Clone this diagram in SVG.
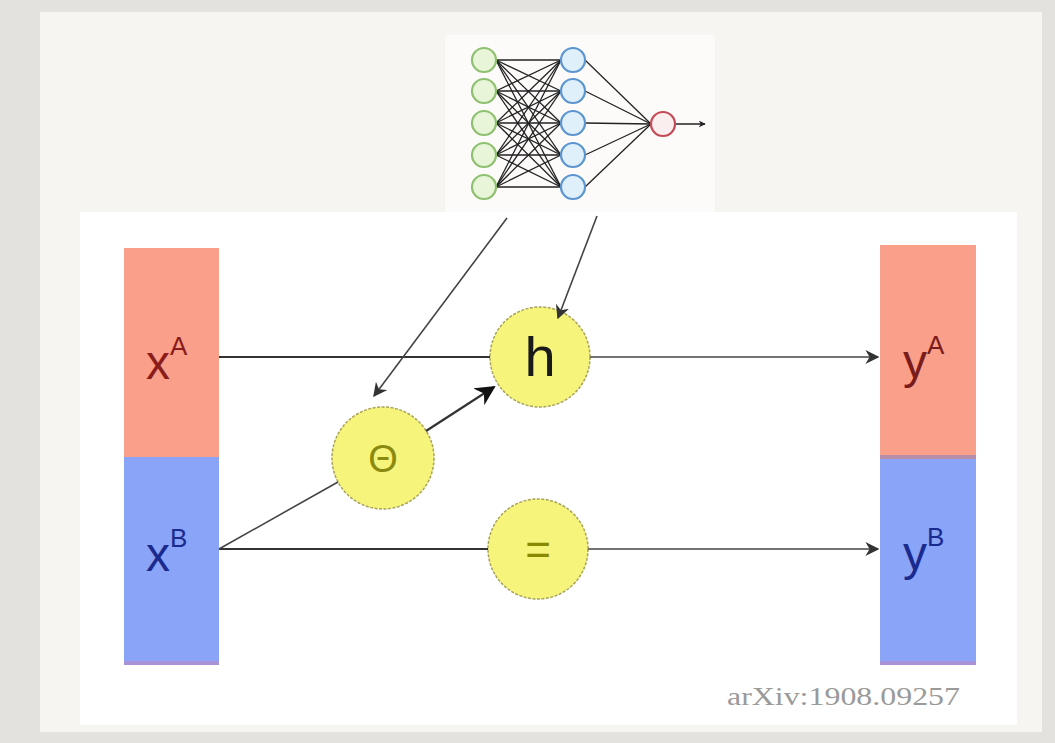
<svg xmlns="http://www.w3.org/2000/svg" width="1055" height="743" viewBox="0 0 1055 743">
<defs>
<marker id="ah" viewBox="0 0 10 10" refX="9" refY="5" markerWidth="7" markerHeight="7" markerUnits="userSpaceOnUse" orient="auto"><path d="M0,0 L10,5 L0,10 L3,5 z" fill="#222"/></marker>
<marker id="ahb" viewBox="0 0 10 10" refX="9" refY="5" markerWidth="20" markerHeight="20" markerUnits="userSpaceOnUse" orient="auto"><path d="M0,0 L10,5 L0,10 L3,5 z" fill="#111"/></marker>
<marker id="ahs" viewBox="0 0 10 10" refX="9" refY="5" markerWidth="14" markerHeight="14" markerUnits="userSpaceOnUse" orient="auto"><path d="M0,0 L10,5 L0,10 L3,5 z" fill="#333"/></marker>
</defs>
<style>
.conn{stroke:#333;stroke-width:2.2;fill:none}
.thin{stroke:#444;stroke-width:1.6;fill:none}
.op{fill:#f6f47a;stroke:#a8a458;stroke-width:1.5;stroke-dasharray:3 1.5}
.lbl{font-family:"Liberation Sans",Arial,sans-serif}
.nnE{stroke:#222;stroke-width:1.3}
.g{fill:#e8f5d8;stroke:#8fc070;stroke-width:2.2}
.b{fill:#e0f0fb;stroke:#5a95d0;stroke-width:2.2}
.r{fill:#fbeeee;stroke:#c44a55;stroke-width:2.2}
</style>
<rect x="0" y="0" width="1055" height="743" fill="#e4e2de"/>
<rect x="40" y="12" width="1002" height="720" fill="#f7f5f1"/>
<rect x="80" y="212" width="937" height="513" fill="#ffffff"/>
<rect x="445" y="35" width="270" height="177" fill="#fdfbfa"/>

<g id="network">
<g class="nnE">
<line x1="496" y1="60" x2="561" y2="60"/><line x1="496" y1="60" x2="561" y2="91"/><line x1="496" y1="60" x2="561" y2="123"/><line x1="496" y1="60" x2="561" y2="155"/><line x1="496" y1="60" x2="561" y2="187"/>
<line x1="496" y1="91" x2="561" y2="60"/><line x1="496" y1="91" x2="561" y2="91"/><line x1="496" y1="91" x2="561" y2="123"/><line x1="496" y1="91" x2="561" y2="155"/><line x1="496" y1="91" x2="561" y2="187"/>
<line x1="496" y1="123" x2="561" y2="60"/><line x1="496" y1="123" x2="561" y2="91"/><line x1="496" y1="123" x2="561" y2="123"/><line x1="496" y1="123" x2="561" y2="155"/><line x1="496" y1="123" x2="561" y2="187"/>
<line x1="496" y1="155" x2="561" y2="60"/><line x1="496" y1="155" x2="561" y2="91"/><line x1="496" y1="155" x2="561" y2="123"/><line x1="496" y1="155" x2="561" y2="155"/><line x1="496" y1="155" x2="561" y2="187"/>
<line x1="496" y1="187" x2="561" y2="60"/><line x1="496" y1="187" x2="561" y2="91"/><line x1="496" y1="187" x2="561" y2="123"/><line x1="496" y1="187" x2="561" y2="155"/><line x1="496" y1="187" x2="561" y2="187"/>
<line x1="585" y1="60" x2="651" y2="124"/><line x1="585" y1="91" x2="651" y2="124"/><line x1="585" y1="123" x2="651" y2="124"/><line x1="585" y1="155" x2="651" y2="124"/><line x1="585" y1="187" x2="651" y2="124"/>
</g>
<line x1="675" y1="124" x2="705" y2="124" stroke="#222" stroke-width="1.5" marker-end="url(#ah)"/>
<circle class="g" cx="484" cy="60" r="12"/><circle class="g" cx="484" cy="91" r="12"/><circle class="g" cx="484" cy="123" r="12"/><circle class="g" cx="484" cy="155" r="12"/><circle class="g" cx="484" cy="187" r="12"/>
<circle class="b" cx="573" cy="60" r="12"/><circle class="b" cx="573" cy="91" r="12"/><circle class="b" cx="573" cy="123" r="12"/><circle class="b" cx="573" cy="155" r="12"/><circle class="b" cx="573" cy="187" r="12"/>
<circle class="r" cx="663" cy="124" r="12"/>
</g>

<g id="xA">
<rect x="124" y="248" width="95" height="209" fill="#fa9f8a"/>
<text class="lbl" x="146" y="379" font-size="48" fill="#8a1c1c">x<tspan font-size="26" dy="-24">A</tspan></text>
</g>
<g id="xB">
<rect x="124" y="457" width="95" height="208" fill="#8aa4f7"/>
<rect x="124" y="661" width="95" height="4" fill="#a893d8"/>
<text class="lbl" x="146" y="571" font-size="48" fill="#1a2a8e">x<tspan font-size="26" dy="-24">B</tspan></text>
</g>
<g id="yA">
<rect x="880" y="245" width="96" height="212" fill="#fa9f8a"/>
<text class="lbl" x="903" y="378" font-size="48" fill="#7a1c1c">y<tspan font-size="26" dy="-24">A</tspan></text>
</g>
<g id="yB">
<rect x="880" y="457" width="96" height="208" fill="#8aa4f7"/>
<rect x="880" y="455" width="96" height="4" fill="#b68ea8"/>
<rect x="880" y="661" width="96" height="4" fill="#a893d8"/>
<text class="lbl" x="903" y="570" font-size="48" fill="#1a2a8e">y<tspan font-size="26" dy="-24">B</tspan></text>
</g>

<g id="h">
<circle class="op" cx="540" cy="357" r="50"/>
<text class="lbl" x="540" y="376" font-size="56" text-anchor="middle" fill="#1a1a1a">h</text>
</g>
<g id="theta">
<circle class="op" cx="383" cy="458" r="51"/>
<text class="lbl" x="383" y="472" font-size="38" text-anchor="middle" fill="#8a8a10">Θ</text>
</g>
<g id="eq">
<circle class="op" cx="538" cy="549" r="50"/>
<text class="lbl" x="538" y="565" font-size="44" text-anchor="middle" fill="#8a8a00">=</text>
</g>

<g id="connectors">
<line class="conn" x1="219" y1="357" x2="490" y2="357"/>
<line class="thin" x1="590" y1="357" x2="878" y2="357" marker-end="url(#ahs)"/>
<line class="conn" x1="219" y1="549" x2="488" y2="549"/>
<line class="thin" x1="588" y1="549" x2="878" y2="549" marker-end="url(#ahs)"/>
<line class="thin" x1="219" y1="549" x2="338" y2="482"/>
<line class="conn" x1="426" y1="431" x2="494" y2="387" marker-end="url(#ahb)"/>
<line class="thin" x1="507" y1="218" x2="374" y2="396" marker-end="url(#ahs)"/>
<line class="thin" x1="597" y1="216" x2="558" y2="318" marker-end="url(#ahs)"/>
</g>

<text x="727" y="705" font-family="'Liberation Serif','Times New Roman',serif" font-size="25" fill="#9a9a9a" textLength="233" lengthAdjust="spacingAndGlyphs">arXiv:1908.09257</text>
</svg>
